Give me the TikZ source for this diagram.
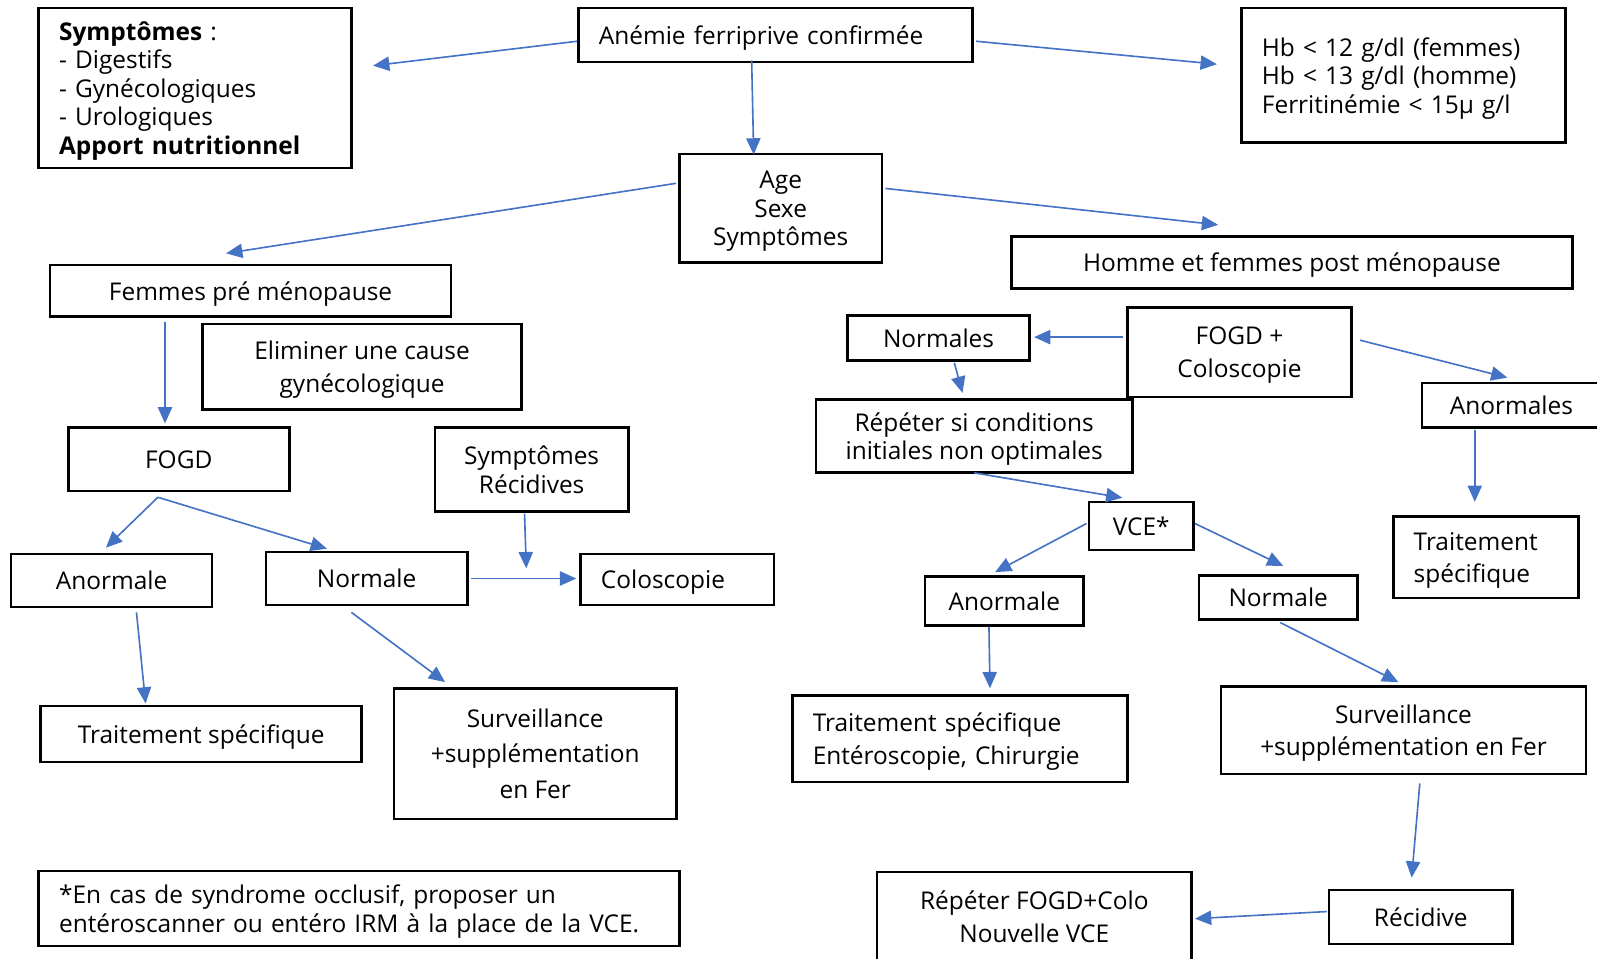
\documentclass[tikz,border=0pt]{standalone}
\usepackage{fontspec}
\setmainfont{Open Sans}
\usetikzlibrary{arrows.meta}
\definecolor{arrowblue}{RGB}{68,114,196}

\begin{document}
\begin{tikzpicture}[x=0.5pt,y=-0.5pt,>={Triangle[length=8pt,width=7pt]},
box/.style={draw,line width=1.25pt,align=center,inner xsep=10pt,inner ysep=2pt,
  text depth=0pt,font=\fontsize{12}{14}\selectfont},
lbox/.style={box,align=left,text width=#1,text height=12pt,text depth=},
loose/.style={font=\fontsize{12}{16}\selectfont},
looser/.style={font=\fontsize{12}{17.5}\selectfont},
link/.style={->,draw=arrowblue,line width=0.8pt}]

\useasboundingbox (0,0) rectangle (1568,941);

% top
\node[lbox=133.5pt,minimum height=78.5pt] (sympt) at (191.5,86.5)
  {\textbf{Symptômes} :\\- Digestifs\\- Gynécologiques\\- Urologiques\\\textbf{Apport nutritionnel}};
\node[lbox=173.5pt,minimum height=26.5pt] (anemie) at (761.5,34.5) {Anémie ferriprive confirmée};
\node[lbox=139pt,minimum height=66pt] (hb) at (1378,74)
  {Hb < 12 g/dl (femmes)\\Hb < 13 g/dl (homme)\\Ferritinémie < 15µ g/l};
\node[box,minimum width=99.5pt,minimum height=53.5pt] (age) at (766.5,204.5) {Age\\Sexe\\Symptômes};
\node[box,minimum width=275.5pt,minimum height=25.5pt] (homme) at (1268.5,257.5) {Homme et femmes post ménopause};

% femmes pre menopause
\node[box,minimum width=197pt,minimum height=25.5pt] (femmes) at (246,285.5) {Femmes pré ménopause};
\node[box,loose,minimum width=156.5pt,minimum height=42pt] (elim) at (355.5,360) {Eliminer une cause\\gynécologique};
\node[box,minimum width=108.5pt,minimum height=31pt] (fogd) at (175.5,451) {FOGD};
\node[box,minimum width=95pt,minimum height=41pt] (symrec) at (522,461) {Symptômes\\Récidives};
\node[box,minimum width=98.5pt,minimum height=26pt] (anorm) at (109.5,570) {Anormale};
\node[box,minimum width=99pt,minimum height=26pt] (norm) at (360,568) {Normale};
\node[lbox=75pt,minimum height=25pt] (colo) at (665,569) {Coloscopie};
\node[box,minimum width=157.5pt,minimum height=27.5pt] (trait) at (197.5,720.5) {Traitement spécifique};
\node[box,looser,minimum width=138.5pt,minimum height=64pt] (surv) at (525.5,740) {Surveillance\\+supplémentation\\en Fer};
\node[lbox=294.5pt,minimum height=37pt] (note) at (352.5,892)
  {*En cas de syndrome occlusif, proposer un\\entéroscanner ou entéro IRM à la place de la VCE.};

% homme et femmes post menopause
\node[box,minimum width=89.5pt,minimum height=22pt] (normales) at (921.5,332) {Normales};
\node[box,loose,minimum width=110pt,minimum height=44pt] (fogdcolo) at (1217,346) {FOGD +\\Coloscopie};
\node[box,minimum width=155.5pt,minimum height=36pt,fill=white] (repeter) at (956.5,428)
  {Répéter si conditions\\initiales non optimales};
\node[box,minimum width=88pt,minimum height=22pt] (anormales) at (1484,398) {Anormales};
\node[box,minimum width=51.5pt,minimum height=23.5pt] (vce) at (1120.5,516.5) {VCE*};
\node[lbox=71pt,loose,minimum height=40pt] (traitr) at (1459,547) {Traitement\\spécifique};
\node[box,minimum width=78pt,minimum height=24pt] (anormr) at (986,590) {Anormale};
\node[box,minimum width=78pt,minimum height=21.5pt] (normr) at (1255,586.5) {Normale};
\node[lbox=144.5pt,loose,minimum height=42.5pt] (entero) at (942.5,725.5)
  {Traitement spécifique\\Entéroscopie, Chirurgie};
\node[box,loose,minimum width=179pt,minimum height=43pt] (survr) at (1378,717) {Surveillance\\+supplémentation en Fer};
\node[box,loose,minimum width=154.5pt,minimum height=44pt] (repfogd) at (1015.5,900) {Répéter FOGD+Colo\\Nouvelle VCE};
\node[box,minimum width=90pt,minimum height=26.5pt] (recidive) at (1395,900.5) {Récidive};

% arrows
\path[every edge/.style={link}]
([yshift=-3pt]anemie.west) edge ([xshift=10pt,yshift=11pt]sympt.east)
([xshift=1pt,yshift=-3pt]anemie.east) edge ([xshift=-11.5pt,yshift=5.5pt]hb.west)
([xshift=-11.75pt,yshift=1.5pt]anemie.south) edge ([xshift=-13.25pt,yshift=-1pt]age.north)
([xshift=-1pt,yshift=12.25pt]age.west) edge ([xshift=-12pt,yshift=5pt]femmes.north)
([xshift=1pt,yshift=9.75pt]age.east) edge ([xshift=-36.25pt,yshift=5pt]homme.north)
([xshift=-42pt,yshift=-2pt]femmes.south) edge ([xshift=-6.75pt,yshift=1.5pt]fogd.north)
([xshift=-10.25pt,yshift=-2.5pt]fogd.south) edge ([xshift=-2.75pt,yshift=2.5pt]anorm.north)
([xshift=-10.25pt,yshift=-2.5pt]fogd.south) edge ([xshift=-19.5pt,yshift=1pt]norm.north)
([xshift=-3.5pt,yshift=-0.5pt]symrec.south) edge ([xshift=-26pt,yshift=5.5pt]colo.west)
([xshift=1pt]norm.east) edge ([xshift=-1.5pt,yshift=0.5pt]colo.west)
([xshift=12.25pt,yshift=-2pt]anorm.south) edge ([xshift=-27.25pt,yshift=0.5pt]trait.north)
([xshift=-7.5pt,yshift=-3pt]norm.south) edge ([xshift=-44.25pt,yshift=2.5pt]surv.north)
([xshift=-1.5pt,yshift=7.5pt]fogdcolo.west) edge ([xshift=1.5pt,yshift=0.5pt]normales.east)
([xshift=3.5pt,yshift=6pt]fogdcolo.east) edge ([xshift=-2pt,yshift=2pt]anormales.north)
([xshift=7.75pt,yshift=-0.5pt]normales.south) edge ([xshift=-5.75pt,yshift=2.5pt]repeter.north)
([yshift=0.5pt]repeter.south) edge ([xshift=-9.25pt,yshift=1.5pt]vce.north)
([xshift=-0.5pt,yshift=1.25pt]vce.west) edge ([xshift=-4.5pt,yshift=1.5pt]anormr.north)
([yshift=1.25pt]vce.east) edge ([xshift=2.5pt,yshift=4pt]normr.north)
([xshift=-18pt,yshift=-0.5pt]anormales.south) edge ([xshift=-5.5pt,yshift=6.5pt]traitr.north)
([xshift=-7.5pt]anormr.south) edge ([xshift=14.75pt,yshift=3pt]entero.north)
([xshift=1pt,yshift=-1pt]normr.south) edge ([xshift=-2.5pt,yshift=1.5pt]survr.north)
([xshift=8pt,yshift=-4pt]survr.south) edge ([xshift=-4.5pt,yshift=5.5pt]recidive.north)
([xshift=-0.5pt,yshift=2.75pt]recidive.west) edge ([xshift=1pt,yshift=-1pt]repfogd.east);
\end{tikzpicture}
\end{document}
